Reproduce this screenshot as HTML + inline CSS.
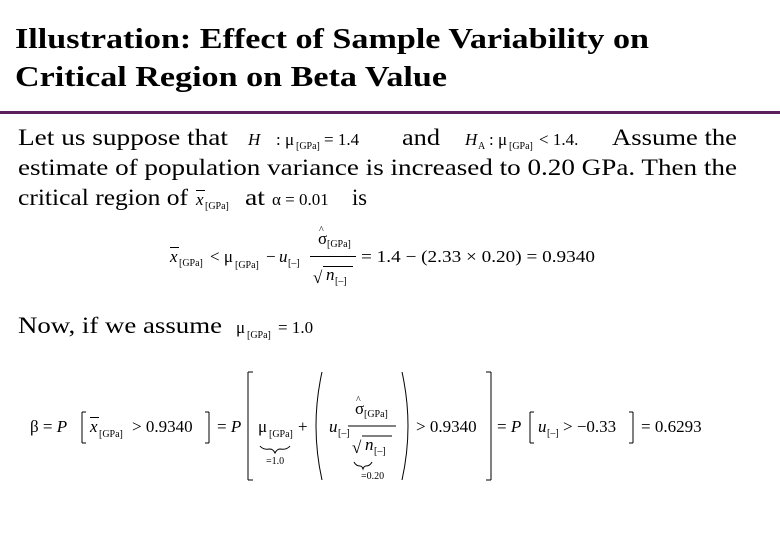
<!DOCTYPE html>
<html><head><meta charset="utf-8"><style>
body{margin:0;width:780px;height:540px;background:#fff;overflow:hidden}
svg{display:block}
.t{font-family:"Liberation Serif",serif;font-weight:bold;font-size:29px;fill:#000}
.b{font-family:"Liberation Serif",serif;font-size:23px;fill:#000}
.m{font-family:"Liberation Serif",serif;font-size:17px;fill:#000}
.s{font-family:"Liberation Serif",serif;font-size:10px;fill:#000}
.i{font-style:italic}
</style></head><body>
<svg width="780" height="540">
<text class="t" x="15" y="48" textLength="634" lengthAdjust="spacingAndGlyphs">Illustration: Effect of Sample Variability on</text>
<text class="t" x="15" y="86" textLength="432" lengthAdjust="spacingAndGlyphs">Critical Region on Beta Value</text>
<rect x="0" y="111" width="780" height="3" fill="#5b1f5b"/>

<g>
<text class="b" x="18" y="145" textLength="210" lengthAdjust="spacingAndGlyphs">Let us suppose that</text>
<text class="m i" x="248" y="145">H</text>
<text class="m" x="276" y="145">: μ</text><text class="s" x="296" y="149">[GPa]</text><text class="m" x="324" y="145">= 1.4</text>
<text class="b" x="402" y="145" textLength="38" lengthAdjust="spacingAndGlyphs">and</text>
<text class="m i" x="465" y="145">H</text><text class="s" x="478" y="149">A</text>
<text class="m" x="489" y="145">: μ</text><text class="s" x="509" y="149">[GPa]</text><text class="m" x="539" y="145">&lt; 1.4.</text>
<text class="b" x="612" y="145" textLength="125" lengthAdjust="spacingAndGlyphs">Assume the</text>
<text class="b" x="18" y="175" textLength="719" lengthAdjust="spacingAndGlyphs">estimate of population variance is increased to 0.20 GPa. Then the</text>
<text class="b" x="18" y="205" textLength="170" lengthAdjust="spacingAndGlyphs">critical region of</text>
<text class="m i" x="196" y="205">x</text><rect x="196" y="190" width="9" height="1" fill="#000"/><text class="s" x="205" y="209">[GPa]</text>
<text class="b" x="245" y="205" textLength="20" lengthAdjust="spacingAndGlyphs">at</text>
<text class="m" x="272" y="205">α = 0.01</text>
<text class="b" x="352" y="205" textLength="15" lengthAdjust="spacingAndGlyphs">is</text>
</g>

<g>
<text class="m i" x="170" y="262">x</text><rect x="170" y="247" width="9" height="1" fill="#000"/><text class="s" x="179" y="266">[GPa]</text>
<text class="m" x="210" y="262">&lt; μ</text><text class="s" x="235" y="268">[GPa]</text>
<text class="m" x="266" y="262">−</text><text class="m i" x="279" y="262">u</text><text class="s" x="288" y="266">[–]</text>
<text class="m" x="318" y="244">σ</text><text class="s" x="319" y="233">^</text><text class="s" x="327" y="247">[GPa]</text>
<rect x="310" y="256" width="46" height="1" fill="#000"/>
<text class="m" x="313" y="283">√</text><rect x="323" y="266" width="30" height="1" fill="#000"/>
<text class="m i" x="326" y="280">n</text><text class="s" x="335" y="284">[–]</text>
<text class="m" x="361" y="262" textLength="234" lengthAdjust="spacingAndGlyphs">= 1.4 − (2.33 × 0.20) = 0.9340</text>
</g>

<text class="b" x="18" y="333" textLength="204" lengthAdjust="spacingAndGlyphs">Now, if we assume</text>
<g>
<text class="m" x="236" y="333">μ</text><text class="s" x="247" y="338">[GPa]</text><text class="m" x="278" y="333">= 1.0</text>
</g>

<g fill="none" stroke="#000" stroke-width="1">
<text class="m" x="30" y="432" stroke="none">β = <tspan class="i">P</tspan></text>
<path d="M82 412 V443 M82 412h4 M82 443h4"/>
<text class="m i" x="90" y="432" stroke="none">x</text><rect x="90" y="417" width="9" height="1" fill="#000" stroke="none"/><text class="s" x="99" y="437" stroke="none">[GPa]</text>
<text class="m" x="132" y="432" stroke="none">&gt; 0.9340</text>
<path d="M209 412 V443 M209 412h-4 M209 443h-4"/>
<text class="m" x="217" y="432" stroke="none">= <tspan class="i">P</tspan></text>
<path d="M248 372 V480 M248 372h5 M248 480h5"/>
<text class="m" x="258" y="432" stroke="none">μ</text><text class="s" x="269" y="437" stroke="none">[GPa]</text>
<path d="M260 446 q3 4 10 3 q3 0 5 4 q2 -4 5 -4 q7 1 10 -3"/>
<text class="s" x="266" y="464" stroke="none">=1.0</text>
<text class="m" x="298" y="432" stroke="none">+</text>
<path d="M322 372 q-12 54 0 108"/>
<text class="m i" x="329" y="432" stroke="none">u</text><text class="s" x="338" y="436" stroke="none">[–]</text>
<text class="m" x="355" y="414" stroke="none">σ</text><text class="s" x="356" y="403" stroke="none">^</text><text class="s" x="364" y="417" stroke="none">[GPa]</text>
<path d="M348 426 h48"/>
<text class="m" x="352" y="453" stroke="none">√</text><path d="M362 436 h30"/>
<text class="m i" x="365" y="450" stroke="none">n</text><text class="s" x="374" y="454" stroke="none">[–]</text>
<path d="M354 462 q2 4 6 4 q2 0 3 3 q1 -3 3 -3 q4 0 6 -4"/>
<text class="s" x="361" y="479" stroke="none">=0.20</text>
<path d="M402 372 q12 54 0 108"/>
<text class="m" x="416" y="432" stroke="none">&gt; 0.9340</text>
<path d="M491 372 V480 M491 372h-5 M491 480h-5"/>
<text class="m" x="497" y="432" stroke="none">= <tspan class="i">P</tspan></text>
<path d="M530 412 V443 M530 412h4 M530 443h4"/>
<text class="m i" x="538" y="432" stroke="none">u</text><text class="s" x="547" y="436" stroke="none">[–]</text>
<text class="m" x="563" y="432" stroke="none">&gt; −0.33</text>
<path d="M633 412 V443 M633 412h-4 M633 443h-4"/>
<text class="m" x="641" y="432" stroke="none">= 0.6293</text>
</g>
</svg>
</body></html>
